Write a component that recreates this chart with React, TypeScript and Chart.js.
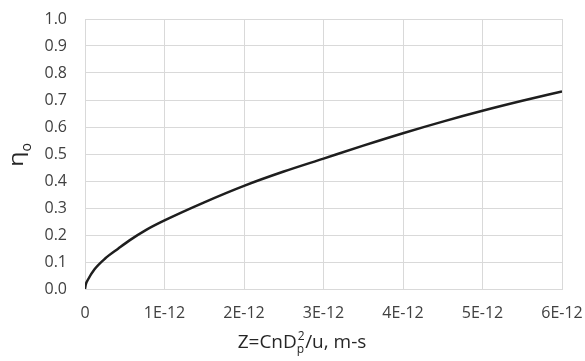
import React, { useEffect, useRef } from "react";
import { Chart, registerables } from "chart.js";

Chart.register(...registerables);

// Overall efficiency against the dimensionless group Z (m-s)
const zValues = [
  0, 0.01e-12, 0.04e-12, 0.12e-12, 0.25e-12, 0.42e-12, 0.56e-12, 0.77e-12,
  1.0e-12, 1.5e-12, 2.0e-12, 2.5e-12, 3.0e-12, 3.5e-12, 4.0e-12, 4.5e-12,
  5.0e-12, 5.5e-12, 6.0e-12,
];
const etaValues = [
  0, 0.017, 0.036, 0.073, 0.112, 0.15, 0.18, 0.219,
  0.254, 0.321, 0.382, 0.435, 0.483, 0.531, 0.577, 0.62,
  0.66, 0.697, 0.732,
];
const xTickLabels = ["0", "1E-12", "2E-12", "3E-12", "4E-12", "5E-12", "6E-12"];

const FONT = '"Open Sans", "DejaVu Sans", sans-serif';

const axisTitles = {
  id: "axisTitles",
  afterDraw(chart: Chart) {
    const ctx = chart.ctx;
    ctx.save();
    ctx.fillStyle = "#262626";
    ctx.textBaseline = "alphabetic";
    ctx.textAlign = "left";

    // x title: Z=CnDp²/u, m-s
    const big = `19px ${FONT}`;
    const small = `12px ${FONT}`;
    ctx.font = big;
    const w0 = ctx.measureText("Z=CnD").width;
    const w3 = ctx.measureText("/u, m-s").width;
    ctx.font = small;
    const wMid = Math.max(ctx.measureText("p").width, ctx.measureText("2").width) + 1;
    const total = w0 + wMid + w3;
    let x = 302 - total / 2;
    const base = 348;
    ctx.font = big;
    ctx.fillText("Z=CnD", x, base);
    x += w0;
    ctx.font = small;
    ctx.fillText("p", x, base + 5);
    ctx.fillText("2", x + 1, base - 8);
    x += wMid;
    ctx.font = big;
    ctx.fillText("/u, m-s", x, base);

    // y title: ηo, rotated
    ctx.translate(22.5, 167);
    ctx.rotate(-Math.PI / 2);
    ctx.font = `20px ${FONT}`;
    const ew = ctx.measureText("η").width;
    ctx.save();
    ctx.scale(15.5 / ew, 1);
    ctx.fillText("η", 0, 0);
    ctx.restore();
    ctx.font = `14px ${FONT}`;
    ctx.fillText("o", 15.5, 8.5);
    ctx.restore();
  },
};

export default function App() {
  const canvasRef = useRef<HTMLCanvasElement | null>(null);

  useEffect(() => {
    if (!canvasRef.current) return;
    const chart = new Chart(canvasRef.current, {
      type: "scatter",
      data: {
        datasets: [
          {
            data: zValues.map((z, i) => ({ x: z, y: etaValues[i] })),
            showLine: true,
            borderColor: "#1e1e1e",
            borderWidth: 2.5,
            pointRadius: 0,
            cubicInterpolationMode: "monotone",
          },
        ],
      },
      options: {
        animation: false,
        responsive: false,
        devicePixelRatio: 1,
        layout: { padding: { top: 19, right: 23, left: 0, bottom: 0 } },
        plugins: {
          legend: { display: false },
          tooltip: { enabled: false },
        },
        scales: {
          x: {
            type: "linear",
            min: 0,
            max: 6e-12,
            afterFit(scale: any) {
              scale.height = 72;
              scale.paddingLeft = 0;
              scale.paddingRight = 0;
            },
            afterBuildTicks(scale: any) {
              scale.ticks = xTickLabels.map((_, i) => ({ value: i * 1e-12 }));
            },
            ticks: {
              padding: 15,
              color: "#404040",
              font: { family: FONT, size: 16 },
              maxRotation: 0,
              autoSkip: false,
              callback: (_v: any, i: number) => xTickLabels[i],
            },
            grid: { color: "#d9d9d9", lineWidth: 1, drawTicks: false },
            border: { color: "#d9d9d9" },
          },
          y: {
            min: 0,
            max: 1,
            afterFit(scale: any) {
              scale.width = 85;
              scale.paddingTop = 0;
              scale.paddingBottom = 0;
            },
            ticks: {
              stepSize: 0.1,
              padding: 18,
              color: "#404040",
              font: { family: FONT, size: 16 },
              callback: (v: any) => Number(v).toFixed(1),
            },
            grid: { color: "#d9d9d9", lineWidth: 1, drawTicks: false },
            border: { color: "#d9d9d9" },
          },
        },
      },
      plugins: [axisTitles],
    });
    return () => chart.destroy();
  }, []);

  return (
    <div style={{ position: "fixed", left: 0, top: 0, width: 585, height: 361, background: "#fff" }}>
      <canvas ref={canvasRef} width={585} height={361} style={{ display: "block" }} />
    </div>
  );
}
